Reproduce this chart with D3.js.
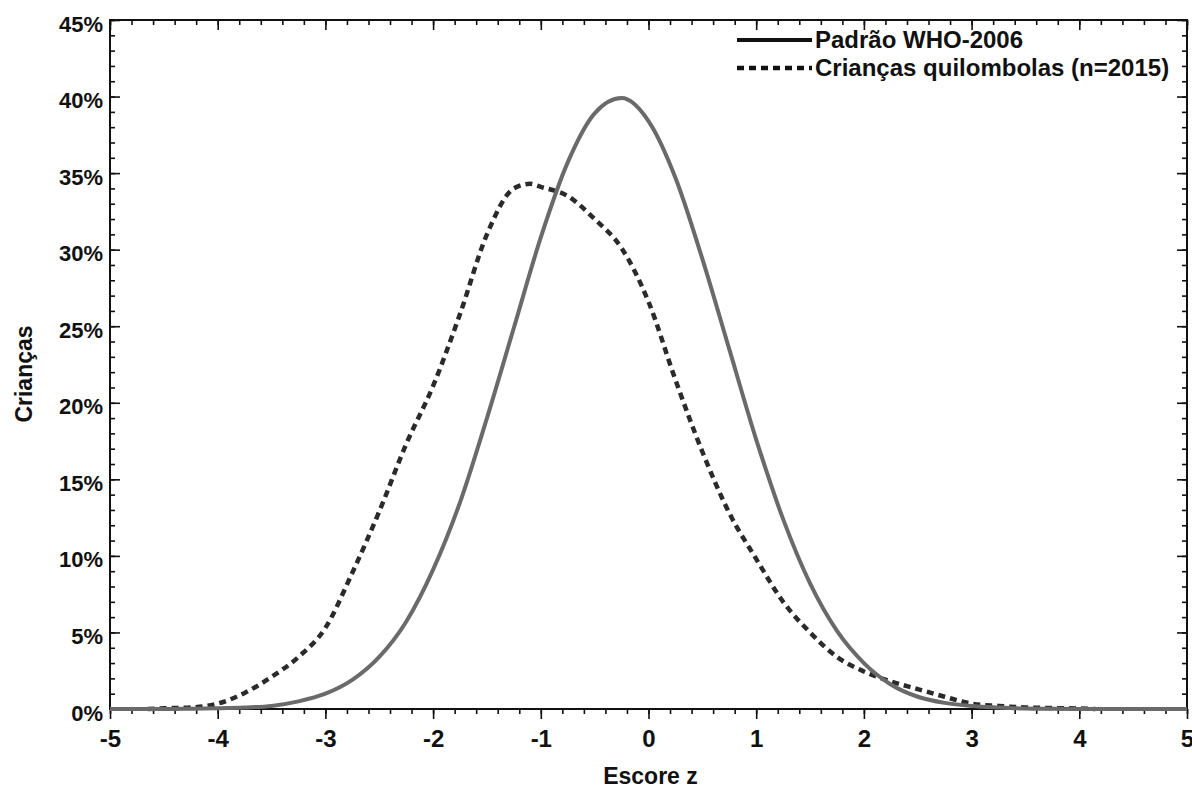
<!DOCTYPE html>
<html>
<head>
<meta charset="utf-8">
<script src="https://cdn.jsdelivr.net/npm/d3@7"></script>
<style>
	body { margin: 0; background: #fff; }
	svg { display: block; font-family: "Liberation Sans", Arial, sans-serif; font-weight: bold; }
</style>
</head>
<body>
<div id="chart"><svg></svg></div>
<script>
// Escore z grid and % of children
var whoZ = [-5, -4.75, -4.5, -4.25, -4, -3.75, -3.5, -3.25, -3, -2.75, -2.5, -2.25, -2, -1.75, -1.5, -1.25, -1, -0.75, -0.5, -0.25,
	0, 0.25, 0.5, 0.75, 1, 1.25, 1.5, 1.75, 2, 2.25, 2.5, 2.75, 3, 3.25, 3.5, 3.75, 4, 4.25, 4.5, 4.75, 5];
var whoPct = [0, 0, 0, 0.02, 0.05, 0.1, 0.2, 0.5, 1.0, 1.9, 3.4, 5.7, 9.1, 13.5, 19.0, 24.9, 30.8, 35.7, 38.9, 39.9,
	38.4, 34.7, 29.4, 23.5, 17.6, 12.4, 8.2, 5.1, 3.0, 1.6, 0.8, 0.4, 0.2, 0.1, 0.03, 0.01, 0, 0, 0, 0, 0];

var quilZ = [-4.65, -4.5, -4.25, -4, -3.75, -3.5, -3.25, -3, -2.75, -2.5, -2.25, -2, -1.75, -1.5, -1.25, -1.1, -1, -0.75, -0.5, -0.25,
	0, 0.25, 0.5, 0.75, 1, 1.25, 1.5, 1.75, 2, 2.25, 2.5, 2.75, 3, 3.25, 3.5, 3.75, 4, 4.15];
var quilPct = [0, 0.05, 0.1, 0.35, 1.05, 2.1, 3.4, 5.3, 8.9, 12.9, 17.3, 21.1, 25.8, 31.0, 34.0, 34.3, 34.1, 33.5, 32.0, 30.1,
	26.6, 21.5, 16.8, 12.8, 9.8, 7.0, 5.0, 3.4, 2.45, 1.8, 1.3, 0.8, 0.35, 0.2, 0.1, 0.06, 0.03, 0];

var xTicks = [-5, -4, -3, -2, -1, 0, 1, 2, 3, 4, 5];
var yTicks = [0, 5, 10, 15, 20, 25, 30, 35, 40, 45];
var legendLabels = ["Padrão WHO-2006", "Crianças quilombolas (n=2015)"];

var width = 1192, height = 796;
var mLeft = 110, mRight = 1187, mTop = 20, mBottom = 709;

var svg = d3.select("#chart").select("svg")
	.attr("width", width)
	.attr("height", height);

var x = d3.scaleLinear().domain([-5, 5]).range([mLeft, mRight]);
var y = d3.scaleLinear().domain([0, 45]).range([mBottom, mTop]);

var xMinor = d3.range(-50, 51, 2).map(function(d) { return d / 10; });
var yMinor = d3.range(0, 46, 1);

// minor ticks first, majors on top
svg.append("g")
	.attr("class", "axis")
	.attr("transform", "translate(0," + mBottom + ")")
	.call(d3.axisBottom(x).tickValues(xMinor).tickSizeInner(5).tickSizeOuter(0).tickFormat(""));
svg.append("g")
	.attr("class", "axis")
	.attr("transform", "translate(0," + mTop + ")")
	.call(d3.axisBottom(x).tickValues(xMinor).tickSizeInner(5).tickSizeOuter(0).tickFormat(""));
svg.append("g")
	.attr("class", "axis")
	.attr("transform", "translate(0," + mTop + ")")
	.call(d3.axisBottom(x).tickValues(xTicks).tickSizeInner(10).tickSizeOuter(0).tickFormat(""));
svg.append("g")
	.attr("class", "axis")
	.attr("transform", "translate(" + mLeft + ",0)")
	.call(d3.axisLeft(y).tickValues(yMinor).tickSizeInner(-5).tickSizeOuter(0).tickFormat(""));
svg.append("g")
	.attr("class", "axis")
	.attr("transform", "translate(" + mRight + ",0)")
	.call(d3.axisLeft(y).tickValues(yMinor).tickSizeInner(5).tickSizeOuter(0).tickFormat(""));
svg.append("g")
	.attr("class", "axis")
	.attr("transform", "translate(" + mRight + ",0)")
	.call(d3.axisLeft(y).tickValues(yTicks).tickSizeInner(10).tickSizeOuter(0).tickFormat(""));

svg.append("g")
	.attr("class", "axis")
	.attr("transform", "translate(0," + mBottom + ")")
	.call(d3.axisBottom(x).tickValues(xTicks).tickSizeInner(10).tickSizeOuter(0).tickPadding(11).tickFormat(function(d) { return d; }))
	.selectAll("text")
	.style("font-size", "24px");

svg.append("g")
	.attr("class", "axis")
	.attr("transform", "translate(" + mLeft + ",0)")
	.call(d3.axisLeft(y).tickValues(yTicks).tickSizeInner(-10).tickSizeOuter(0).tickPadding(7).tickFormat(function(d) { return d + "%"; }))
	.selectAll("text")
	.attr("dy", "0.5em")
	.style("font-size", "22px");

svg.selectAll(".axis .domain").remove();
svg.selectAll(".axis line")
	.attr("stroke", "#111")
	.attr("stroke-width", 1.6);
svg.selectAll(".axis text")
	.attr("fill", "#111")
	.style("font-family", "'Liberation Sans', Arial, sans-serif")
	.style("font-weight", "bold");

svg.append("rect")
	.attr("x", mLeft)
	.attr("y", mTop)
	.attr("width", mRight - mLeft)
	.attr("height", mBottom - mTop)
	.attr("fill", "none")
	.attr("stroke", "#111")
	.attr("stroke-width", 2);

var line = d3.line()
	.x(function(d) { return x(d[0]); })
	.y(function(d) { return y(d[1]); })
	.curve(d3.curveMonotoneX);

svg.append("path")
	.datum(quilZ.map(function(d, i) { return [d, quilPct[i]]; }))
	.attr("d", line)
	.attr("fill", "none")
	.attr("stroke", "#2a2a2a")
	.attr("stroke-width", 4.5)
	.attr("stroke-dasharray", "7,5");

svg.append("path")
	.datum(whoZ.map(function(d, i) { return [d, whoPct[i]]; }))
	.attr("d", line)
	.attr("fill", "none")
	.attr("stroke", "#6a6a6a")
	.attr("stroke-width", 4);

// legend
var legend = svg.append("g")
	.attr("transform", "translate(737,40)");
legend.append("line")
	.attr("x1", 0).attr("x2", 75)
	.attr("y1", 0).attr("y2", 0)
	.attr("stroke", "#111")
	.attr("stroke-width", 4);
legend.append("line")
	.attr("x1", 0).attr("x2", 75)
	.attr("y1", 28).attr("y2", 28)
	.attr("stroke", "#111")
	.attr("stroke-width", 4.5)
	.attr("stroke-dasharray", "7,5");
legend.selectAll(".lg")
	.data(legendLabels)
	.enter()
	.append("text")
	.attr("class", "lg")
	.attr("x", 78)
	.attr("y", function(d, i) { return i * 28 + 8; })
	.text(function(d) { return d; })
	.style("font-size", "24px")
	.attr("fill", "#111");

svg.append("text")
	.attr("x", (mLeft + mRight) / 2 + 2)
	.attr("y", 784)
	.style("text-anchor", "middle")
	.style("font-size", "23px")
	.attr("fill", "#111")
	.text("Escore z");

svg.append("text")
	.attr("transform", "translate(32,374) rotate(-90)")
	.style("text-anchor", "middle")
	.style("font-size", "23px")
	.attr("fill", "#111")
	.text("Crianças");
</script>
</body>
</html>
